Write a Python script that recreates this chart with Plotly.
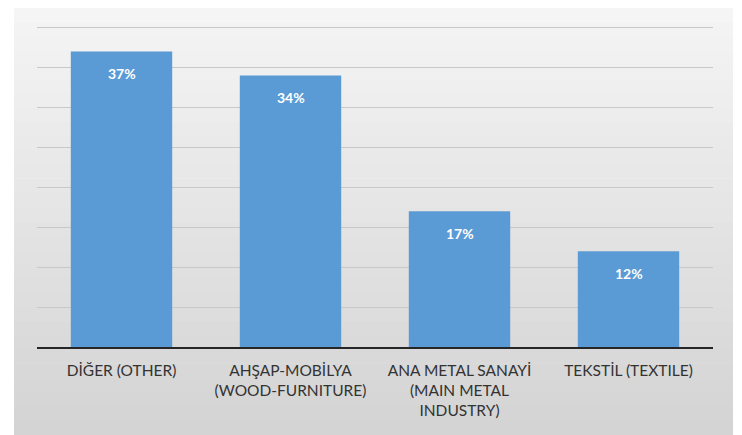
import plotly.graph_objects as go

categories = [
    "DİĞER (OTHER)",
    "AHŞAP-MOBİLYA<br>(WOOD-FURNITURE)",
    "ANA METAL SANAYİ<br>(MAIN METAL<br>INDUSTRY)",
    "TEKSTİL (TEXTILE)",
]
values = [37, 34, 17, 12]
value_labels = ["37%", "34%", "17%", "12%"]
y_ticks = [0, 5, 10, 15, 20, 25, 30, 35, 40]

BAR_COLOR = "#5b9bd5"
FONT = "Lato"

W, H = 734, 427
L, R, T, B = 29, 29, 18, 88
PW, PH = W - L - R, H - T - B

fig = go.Figure()
fig.add_trace(go.Bar(
    x=categories,
    y=values,
    marker=dict(color=BAR_COLOR, line=dict(width=0)),
    hoverinfo="skip",
))

for c, v, t in zip(categories, values, value_labels):
    fig.add_annotation(
        x=c, y=v, xref="x", yref="y", text=t, showarrow=False,
        yshift=-22, font=dict(family=FONT, size=14, color="white", weight="bold"),
    )

# photographed panel background: gray frame with lighter gradient toward top
shapes = []
n = 30
top, bottom = 1 + T / PH, -B / PH
for i in range(n):
    y0 = bottom + (top - bottom) * i / n
    y1 = bottom + (top - bottom) * (i + 1) / n
    frac = i / (n - 1)
    g = int(212 + (245 - 212) * frac)
    shapes.append(dict(
        type="rect", xref="paper", yref="paper",
        x0=-23 / PW, x1=1 + 20 / PW, y0=y0, y1=y1 + 0.002, layer="below",
        fillcolor=f"rgb({g},{g},{g})", line=dict(width=0),
    ))

fig.update_layout(
    width=W, height=H,
    margin=dict(l=L, r=R, t=T, b=B, pad=0),
    paper_bgcolor="white",
    plot_bgcolor="rgba(0,0,0,0)",
    bargap=0.4,
    showlegend=False,
    shapes=shapes,
    font=dict(family=FONT, color="#333333", size=15.5),
    xaxis=dict(
        automargin=False,
        showline=True, linecolor="#262626", linewidth=2,
        showgrid=False, ticks="outside", ticklen=8, tickcolor="rgba(0,0,0,0)",
        tickfont=dict(family=FONT, size=15.5, color="#333333"),
    ),
    yaxis=dict(
        automargin=False,
        range=[0, 40.2], tickvals=y_ticks, showticklabels=False,
        showgrid=True, gridcolor="#c8c8c8", gridwidth=1, zeroline=False,
    ),
)

fig.write_html("out.html")
